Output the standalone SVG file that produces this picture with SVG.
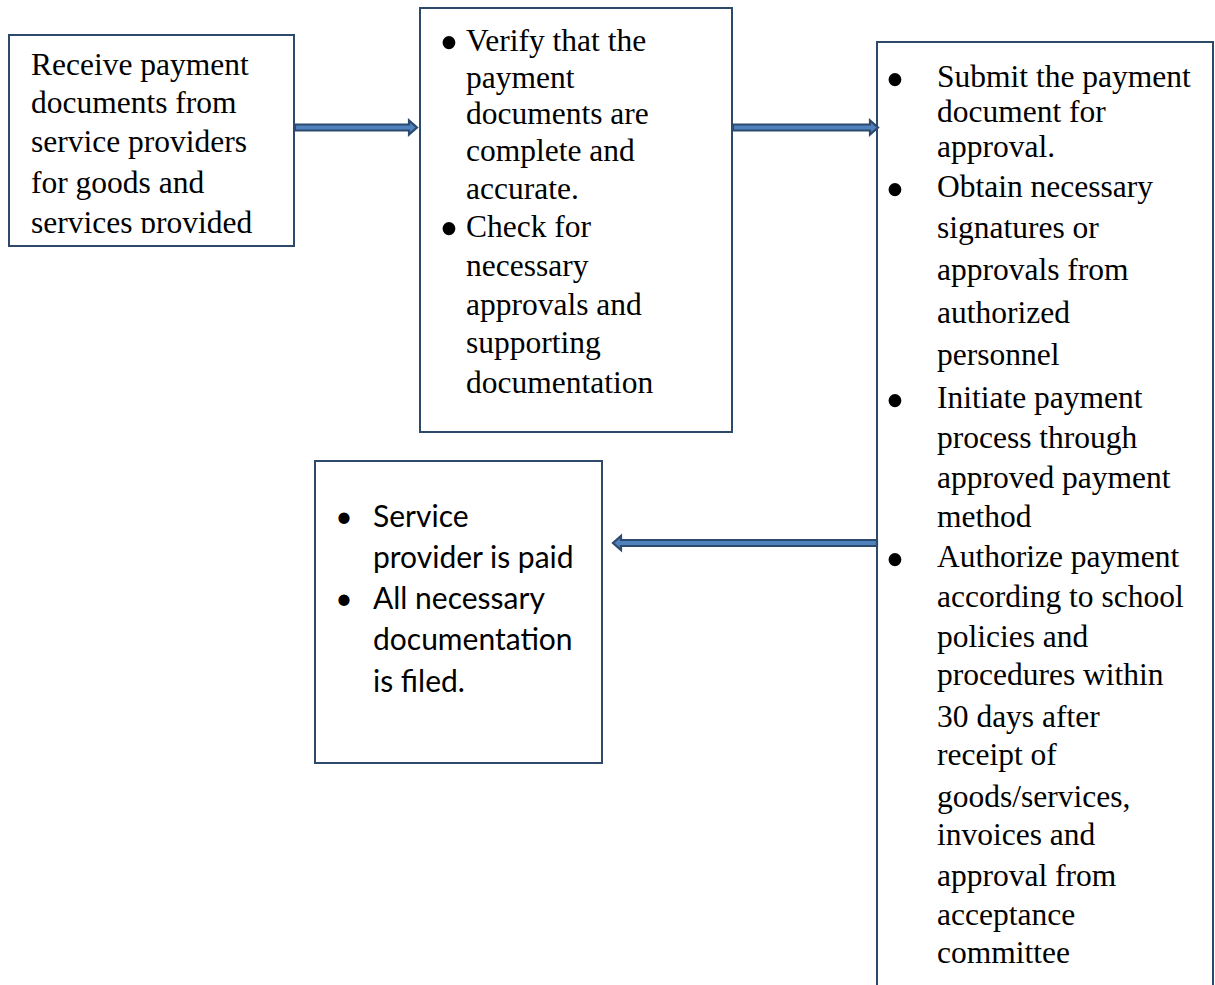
<svg xmlns="http://www.w3.org/2000/svg" width="1215" height="985" viewBox="0 0 1215 985">
<defs>
<style>
.box{fill:#ffffff;stroke:#2E4A6B;stroke-width:2}
.serif{font-family:"Liberation Serif","Times New Roman",serif;font-size:31.5px;fill:#000}
.bul{font-family:"Liberation Serif","Times New Roman",serif;font-size:54px;fill:#000;text-anchor:middle}
.sans{font-family:Lato,"Open Sans","Liberation Sans",sans-serif;font-size:30px;fill:#000}
.arrow{fill:#4F81BD;stroke:#2C4A6E;stroke-width:2.2;stroke-linejoin:miter}
</style>
<clipPath id="clip1"><rect x="9" y="35" width="285" height="198"/></clipPath>
</defs>
<rect width="1215" height="985" fill="#ffffff"/>

<g id="node-receive">
<rect class="box" x="9" y="35" width="285" height="211"/>
<g clip-path="url(#clip1)">
<text class="serif" x="31" y="75">Receive payment</text>
<text class="serif" x="31" y="113">documents from</text>
<text class="serif" x="31" y="152">service providers</text>
<text class="serif" x="31" y="193">for goods and</text>
<text class="serif" x="31" y="233">services provided</text>
</g>
</g>

<g id="node-verify">
<rect class="box" x="420" y="8" width="312" height="424"/>
<text class="bul" x="449" y="61">•</text>
<text class="serif" x="466" y="51">Verify that the</text>
<text class="serif" x="466" y="88">payment</text>
<text class="serif" x="466" y="124">documents are</text>
<text class="serif" x="466" y="161">complete and</text>
<text class="serif" x="466" y="199">accurate.</text>
<text class="bul" x="449" y="247">•</text>
<text class="serif" x="466" y="237">Check for</text>
<text class="serif" x="466" y="276">necessary</text>
<text class="serif" x="466" y="315">approvals and</text>
<text class="serif" x="466" y="353">supporting</text>
<text class="serif" x="466" y="393">documentation</text>
</g>

<g id="node-approve">
<rect class="box" x="877" y="42" width="336" height="980"/>
<text class="bul" x="895" y="98">•</text>
<text class="serif" x="937" y="87">Submit the payment</text>
<text class="serif" x="937" y="122">document for</text>
<text class="serif" x="937" y="157">approval.</text>
<text class="bul" x="895" y="208">•</text>
<text class="serif" x="937" y="197">Obtain necessary</text>
<text class="serif" x="937" y="238">signatures or</text>
<text class="serif" x="937" y="280">approvals from</text>
<text class="serif" x="937" y="323">authorized</text>
<text class="serif" x="937" y="365">personnel</text>
<text class="bul" x="895" y="419">•</text>
<text class="serif" x="937" y="408">Initiate payment</text>
<text class="serif" x="937" y="448">process through</text>
<text class="serif" x="937" y="488">approved payment</text>
<text class="serif" x="937" y="527">method</text>
<text class="bul" x="895" y="578">•</text>
<text class="serif" x="937" y="567">Authorize payment</text>
<text class="serif" x="937" y="607">according to school</text>
<text class="serif" x="937" y="647">policies and</text>
<text class="serif" x="937" y="685">procedures within</text>
<text class="serif" x="937" y="727">30 days after</text>
<text class="serif" x="937" y="765">receipt of</text>
<text class="serif" x="937" y="807">goods/services,</text>
<text class="serif" x="937" y="845">invoices and</text>
<text class="serif" x="937" y="886">approval from</text>
<text class="serif" x="937" y="925">acceptance</text>
<text class="serif" x="937" y="963">committee</text>
</g>

<g id="node-paid">
<rect class="box" x="315" y="461" width="287" height="302"/>
<text class="sans" x="344" y="527" text-anchor="middle">•</text>
<text class="sans" x="373" y="527">Service</text>
<text class="sans" x="373" y="568">provider is paid</text>
<text class="sans" x="344" y="609" text-anchor="middle">•</text>
<text class="sans" x="373" y="609">All necessary</text>
<text class="sans" x="373" y="650">documentation</text>
<text class="sans" x="373" y="692">is filed.</text>
</g>

<g id="connectors">
<polygon class="arrow" points="295,124.5 409,124.5 409,120.5 417,127.5 409,134.5 409,130.5 295,130.5"/>
<polygon class="arrow" points="733,124.5 870,124.5 870,120.5 878,127.5 870,134.5 870,130.5 733,130.5"/>
<polygon class="arrow" points="877,540 621,540 621,536 613,543 621,550 621,546 877,546"/>
</g>
</svg>
